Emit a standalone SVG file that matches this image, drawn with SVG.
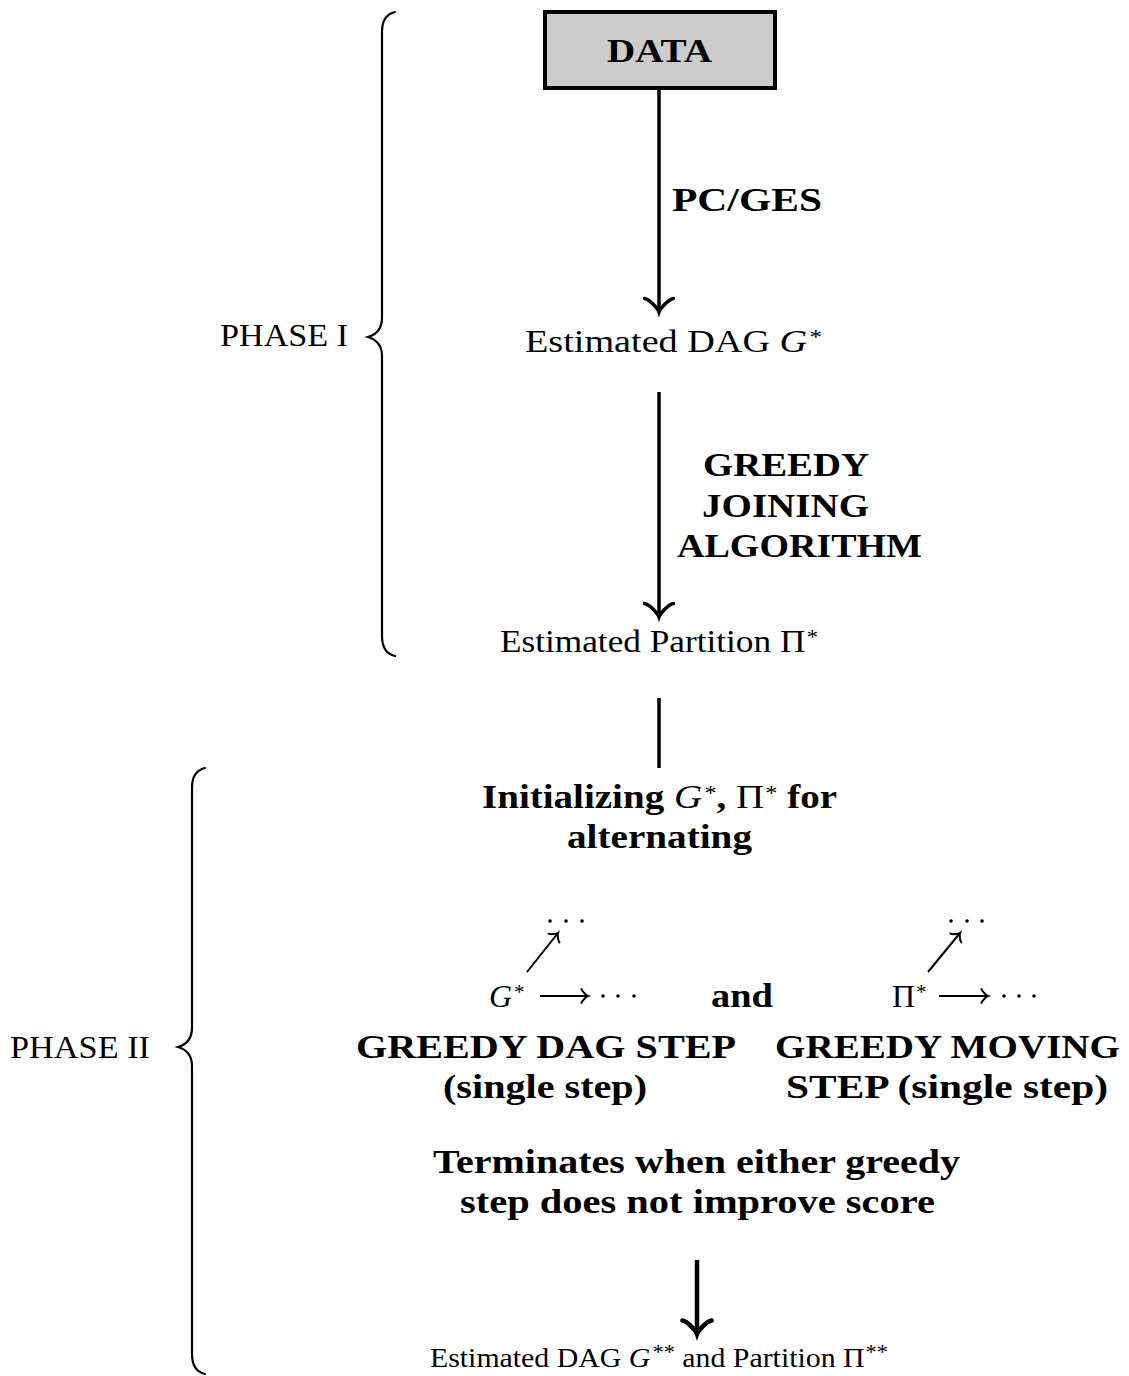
<svg xmlns="http://www.w3.org/2000/svg" width="1129" height="1376" viewBox="0 0 1129 1376">
  <style>
    text { font-family: "Liberation Serif", "Times New Roman", serif; fill: #000; }
    .reg { font-size: 32px; }
    .small { font-size: 28px; }
    .bold { font-size: 34px; font-weight: bold; }
    .mi { font-style: italic; font-weight: normal; }
    .up { font-weight: normal; }
    .sup { font-size: 21px; font-weight: normal; font-style: normal; }
    .shaft { stroke: #000; stroke-width: 3.5; fill: none; }
    .thin { stroke: #000; stroke-width: 2; fill: none; }
    .brace { stroke: #000; stroke-width: 2.2; fill: none; stroke-linecap: round; }
  </style>
  <defs>
    <marker id="head" markerUnits="userSpaceOnUse" orient="auto" refX="0" refY="0" markerWidth="40" markerHeight="40" overflow="visible">
      <path d="M -13.5 -14.4 C -12.6 -9 -2.7 -0.9 0 0 C -2.7 0.9 -12.6 9 -13.5 14.4" fill="none" stroke="#000" stroke-width="3.5" stroke-linecap="round"/>
    </marker>
    <marker id="headXL" markerUnits="userSpaceOnUse" orient="auto" refX="0" refY="0" markerWidth="40" markerHeight="40" overflow="visible">
      <path d="M -13.5 -14.6 C -12.6 -9 -2.7 -0.9 0 0 C -2.7 0.9 -12.6 9 -13.5 14.6" fill="none" stroke="#000" stroke-width="4.5" stroke-linecap="round"/>
    </marker>
    <marker id="headS" markerUnits="userSpaceOnUse" orient="auto" refX="0" refY="0" markerWidth="20" markerHeight="20" overflow="visible">
      <path d="M -6.5 -7 C -6 -4.4 -1.3 -0.4 0 0 C -1.3 0.4 -6 4.4 -6.5 7" fill="none" stroke="#000" stroke-width="2" stroke-linecap="round"/>
    </marker>
  </defs>

  <!-- phase braces and labels -->
  <g id="phase1">
    <path class="brace" d="M 395 12 C 386 14 382 22 382 32 L 382 318 C 382 328 378 334 368 337 C 378 340 382 346 382 356 L 382 636 C 382 646 386 654 395 656"/>
    <text class="reg" x="220" y="346" textLength="128" lengthAdjust="spacingAndGlyphs">PHASE I</text>
  </g>
  <g id="phase2">
    <path class="brace" d="M 205 768 C 196 770 192 778 192 788 L 192 1028 C 192 1038 188 1044 178 1047 C 188 1050 192 1056 192 1066 L 192 1354 C 192 1364 196 1372 205 1374"/>
    <text class="reg" x="10" y="1058" textLength="140" lengthAdjust="spacingAndGlyphs">PHASE II</text>
  </g>

  <!-- nodes -->
  <g id="data">
    <rect x="545" y="12" width="230" height="76" fill="#cccccc" stroke="#000" stroke-width="4"/>
    <text class="bold" x="607" y="62" textLength="105" lengthAdjust="spacingAndGlyphs">DATA</text>
  </g>
  <g id="dag-estimate">
    <text class="reg" x="525" y="352" textLength="297" lengthAdjust="spacingAndGlyphs">Estimated DAG <tspan class="mi">G</tspan><tspan class="sup" dx="2" dy="-8">*</tspan></text>
  </g>
  <g id="partition-estimate">
    <text class="reg" x="500" y="652" textLength="318" lengthAdjust="spacingAndGlyphs">Estimated Partition Π<tspan class="sup" dx="1" dy="-8">*</tspan></text>
  </g>
  <g id="init">
    <text class="bold" x="482" y="808" textLength="355" lengthAdjust="spacingAndGlyphs">Initializing <tspan class="mi">G</tspan><tspan class="sup" dx="2" dy="-8">*</tspan><tspan dy="8">, </tspan><tspan class="up">Π</tspan><tspan class="sup" dx="1" dy="-8">*</tspan><tspan dy="8"> for</tspan></text>
    <text class="bold" x="567" y="848" textLength="185" lengthAdjust="spacingAndGlyphs">alternating</text>
  </g>
  <g id="dag-step">
    <text class="reg" x="489" y="1007"><tspan class="mi">G</tspan><tspan class="sup" dx="2" dy="-8">*</tspan></text>
    <circle cx="550" cy="921" r="1.8"/><circle cx="566" cy="921" r="1.8"/><circle cx="582" cy="921" r="1.8"/>
    <circle cx="603" cy="996" r="1.8"/><circle cx="618" cy="996" r="1.8"/><circle cx="634" cy="996" r="1.8"/>
    <text class="bold" x="356" y="1058" textLength="380" lengthAdjust="spacingAndGlyphs">GREEDY DAG STEP</text>
    <text class="bold" x="443" y="1098" textLength="204" lengthAdjust="spacingAndGlyphs">(single step)</text>
  </g>
  <g id="and">
    <text class="bold" x="711" y="1007" textLength="62" lengthAdjust="spacingAndGlyphs">and</text>
  </g>
  <g id="moving-step">
    <text class="reg" x="892" y="1007">Π<tspan class="sup" dx="1" dy="-8">*</tspan></text>
    <circle cx="951" cy="921" r="1.8"/><circle cx="967" cy="921" r="1.8"/><circle cx="982" cy="921" r="1.8"/>
    <circle cx="1004" cy="996" r="1.8"/><circle cx="1019" cy="996" r="1.8"/><circle cx="1034" cy="996" r="1.8"/>
    <text class="bold" x="775" y="1058" textLength="345" lengthAdjust="spacingAndGlyphs">GREEDY MOVING</text>
    <text class="bold" x="786" y="1098" textLength="322" lengthAdjust="spacingAndGlyphs">STEP (single step)</text>
  </g>
  <g id="terminate">
    <text class="bold" x="433" y="1173" textLength="527" lengthAdjust="spacingAndGlyphs">Terminates when either greedy</text>
    <text class="bold" x="460" y="1213" textLength="475" lengthAdjust="spacingAndGlyphs">step does not improve score</text>
  </g>
  <g id="final-estimate">
    <text class="small" x="430" y="1367" textLength="458" lengthAdjust="spacingAndGlyphs">Estimated DAG <tspan class="mi">G</tspan><tspan class="sup" dx="2" dy="-8">**</tspan><tspan dy="8"> and Partition Π</tspan><tspan class="sup" dx="1" dy="-8">**</tspan></text>
  </g>

  <!-- connectors -->
  <g id="connectors">
    <line class="shaft" x1="659" y1="88" x2="659" y2="312" marker-end="url(#head)"/>
    <text class="bold" x="672" y="211" textLength="150" lengthAdjust="spacingAndGlyphs">PC/GES</text>
    <line class="shaft" x1="659" y1="392" x2="659" y2="617" marker-end="url(#head)"/>
    <text class="bold" x="703" y="476" textLength="166" lengthAdjust="spacingAndGlyphs">GREEDY</text>
    <text class="bold" x="702" y="517" textLength="167" lengthAdjust="spacingAndGlyphs">JOINING</text>
    <text class="bold" x="677" y="557" textLength="245" lengthAdjust="spacingAndGlyphs">ALGORITHM</text>
    <line class="shaft" x1="659" y1="698" x2="659" y2="768"/>
    <line class="thin" x1="527" y1="972" x2="558" y2="933" marker-end="url(#headS)"/>
    <line class="thin" x1="540" y1="996" x2="588" y2="996" marker-end="url(#headS)"/>
    <line class="thin" x1="928" y1="972" x2="960" y2="933" marker-end="url(#headS)"/>
    <line class="thin" x1="939" y1="996" x2="988" y2="996" marker-end="url(#headS)"/>
    <line x1="697" y1="1260" x2="697" y2="1334" stroke="#000" stroke-width="4.5" marker-end="url(#headXL)"/>
  </g>
</svg>
